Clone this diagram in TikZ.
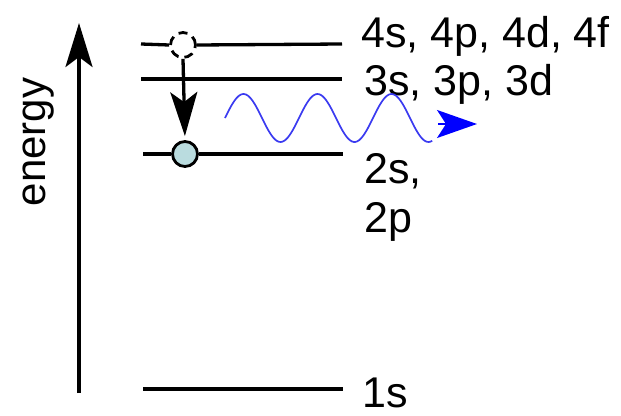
\documentclass[tikz,border=0pt]{standalone}
\usepackage{fontspec}
\setmainfont{Liberation Sans}
\usepackage{xcolor}
\usepackage{tikz}
\usetikzlibrary{positioning, arrows.meta, calc}
\definecolor{elecfill}{HTML}{BADCDF}
\definecolor{photonblue}{HTML}{3A3AF0}

\begin{document}
\begin{tikzpicture}[
  x=1pt, y=-1pt,
  level/.style={line width=3.3pt, color=black},
  lbl/.style={anchor=base west, inner sep=0pt, font=\fontsize{43}{49}\selectfont},
  electron/.style={circle, draw=black, line width=2.8pt, minimum size=25pt, inner sep=0pt},
  axisarrow/.style={line width=3.3pt, -{Stealth[length=44pt, width=27pt, inset=10pt]}},
  droparrow/.style={line width=3.3pt, -{Stealth[length=44pt, width=27pt, inset=10pt]}},
  photon/.style={line width=1.7pt, color=photonblue},
]
\useasboundingbox (0,0) rectangle (621,415);

% energy axis
\coordinate (axisbot) at (79,393);
\coordinate (axistop) at (79,23);
\draw[axisarrow] (axisbot) -- (axistop);
\node[anchor=base, rotate=90, inner sep=0pt, font=\fontsize{42}{49}\selectfont]
  (energy) at (45,142) {energy};

% electrons
\node[electron, dashed, dash pattern=on 9pt off 6pt] (hole) at (183,45) {};
\node[electron, fill=elecfill] (elec) at (185,154) {};

% levels
\coordinate (l4a) at (141,44);
\coordinate (l4b) at (342,44);
\coordinate (l3a) at (141,79);
\coordinate (l3b) at (342,79);
\coordinate (l2a) at (143,154);
\coordinate (l2b) at (343,154);
\coordinate (l1a) at (143,389);
\coordinate (l1b) at (343,389);
\draw[level] (l4a) -- (hole.west);
\draw[level] (hole.east) -- (l4b);
\draw[level] (l3a) -- (l3b);
\draw[level] (l2a) -- (elec.west);
\draw[level] (elec.east) -- (l2b);
\draw[level] (l1a) -- (l1b);

\node[lbl] (n4) at (361,47) {4s, 4p, 4d, 4f};
\node[lbl] (n3) at (364,95) {3s, 3p, 3d};
\node[lbl, align=left] (n2) at (364,232) {2s,\\2p};
\node[lbl] (n1) at (362,407) {1s};

% transition and photon
\draw[droparrow, shorten >=4pt] (hole.south) -- (elec.north);
\draw[photon] plot[domain=0:2.8, samples=120] ({225+74*\x}, {118-24*sin(360*\x)})
  coordinate (waveend);
\coordinate (tipstart) at (438,124);
\coordinate (tipend) at (477,124);
\draw[photon, color=blue, -{Stealth[length=40pt, width=28pt, inset=9pt]}] (tipstart) -- (tipend);
\end{tikzpicture}
\end{document}
